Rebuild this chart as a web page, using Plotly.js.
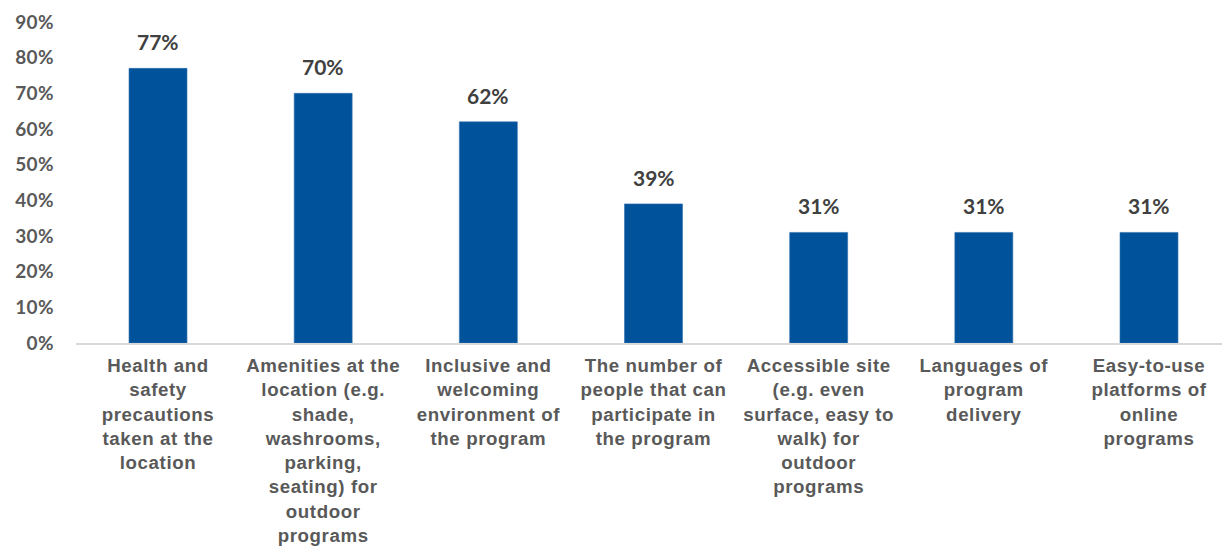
<!DOCTYPE html>
<html>
<head>
<meta charset="utf-8">
<script src="https://cdn.plot.ly/plotly-3.0.1.min.js"></script>
<style>
html,body{margin:0;padding:0;background:#fff;}
#chart{width:1222px;height:548px;}
.xtick text{letter-spacing:0.6px;}
.ytick text{letter-spacing:0.4px;}
</style>
</head>
<body>
<div id="chart"></div>
<script>
const categories = [
  "Health and<br>safety<br>precautions<br>taken at the<br>location",
  "Amenities at the<br>location (e.g.<br>shade,<br>washrooms,<br>parking,<br>seating) for<br>outdoor<br>programs",
  "Inclusive and<br>welcoming<br>environment of<br>the program",
  "The number of<br>people that can<br>participate in<br>the program",
  "Accessible site<br>(e.g. even<br>surface, easy to<br>walk) for<br>outdoor<br>programs",
  "Languages of<br>program<br>delivery",
  "Easy-to-use<br>platforms of<br>online<br>programs"
];
const values = [0.77, 0.70, 0.62, 0.39, 0.31, 0.31, 0.31];
const valueLabels = ["77%", "70%", "62%", "39%", "31%", "31%", "31%"];
const yTickVals = [0, 0.1, 0.2, 0.3, 0.4, 0.5, 0.6, 0.7, 0.8, 0.9];
const yTickText = ["0%", "10%", "20%", "30%", "40%", "50%", "60%", "70%", "80%", "90%"];

const xIdx = categories.map((c, i) => i);

const trace = {
  type: 'bar',
  x: xIdx,
  y: values,
  width: 0.351,
  marker: {color: '#00539B', line: {color: '#2E6FB0', width: 0.6}},
  hoverinfo: 'none'
};

const annotations = values.map((v, i) => ({
  x: i, y: v, xref: 'x', yref: 'y',
  text: valueLabels[i], showarrow: false,
  yanchor: 'bottom', yshift: 12,
  font: {family: 'Lato, sans-serif', size: 21, color: '#404040', weight: 'bold'}
}));

const layout = {
  width: 1222, height: 548,
  margin: {l: 76, r: 0, t: 22, b: 205},
  paper_bgcolor: '#ffffff',
  plot_bgcolor: '#ffffff',
  showlegend: false,
  bargap: 0.65,
  xaxis: {
    range: [-0.4965, 6.442],
    tickmode: 'array',
    tickvals: xIdx,
    ticktext: categories,
    tickangle: 0,
    showgrid: false,
    zeroline: false,
    showline: true,
    linecolor: '#D9D9D9',
    linewidth: 1.5,
    ticks: '',
    ticklabelstandoff: 5,
    tickfont: {family: '"Liberation Sans", Arial, sans-serif', size: 18.7, color: '#595959', weight: 'bold'},
    fixedrange: true
  },
  yaxis: {
    range: [0, 0.9],
    tickmode: 'array',
    tickvals: yTickVals,
    ticktext: yTickText,
    showgrid: false,
    zeroline: false,
    showline: false,
    ticks: '',
    ticklabelstandoff: 21,
    tickfont: {family: 'Lato, sans-serif', size: 19, color: '#595959', weight: 'bold'},
    fixedrange: true
  },
  annotations: annotations
};

Plotly.newPlot('chart', [trace], layout, {displayModeBar: false, staticPlot: true});
</script>
</body>
</html>
